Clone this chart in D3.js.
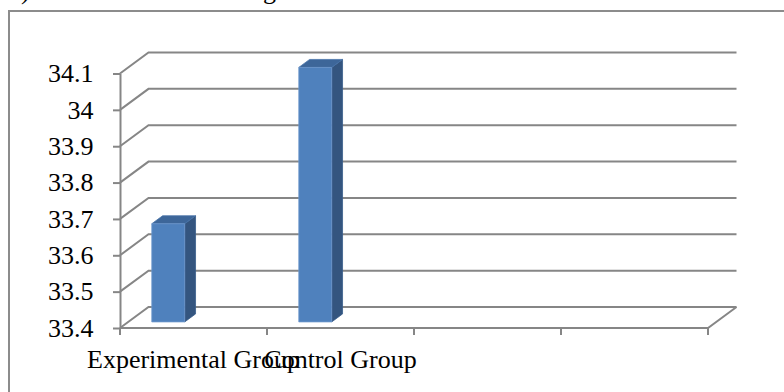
<!DOCTYPE html>
<html>
<head>
<meta charset="utf-8">
<script src="https://cdn.jsdelivr.net/npm/d3@7"></script>
<style>
  html, body { margin: 0; padding: 0; background: #fff; }
  svg { display: block; }
  text { font-family: "Liberation Serif", "Times New Roman", serif; fill: #000; }
</style>
</head>
<body>
<svg id="chart" width="784" height="392"></svg>
<script>
// Mean scores per group (4 category slots, last two empty)
const categories = ["Experimental Group", "Control Group", "", ""];
const values = [33.67, 34.1, null, null];
const yTicks = [33.4, 33.5, 33.6, 33.7, 33.8, 33.9, 34.0, 34.1];

(function () {
const svg = d3.select("#chart");
const serif = "Liberation Serif, Times New Roman, serif";

// Surrounding frame of the chart object (runs past the page edge)
svg.append("rect")
  .attr("x", 9).attr("y", 11).attr("width", 820).attr("height", 420)
  .attr("fill", "none").attr("stroke", "#8c8c8c").attr("stroke-width", 2);

// Descenders of the text line sitting just above the chart
svg.append("text").attr("x", 21).attr("y", -1).attr("font-size", 26).attr("font-family", serif).text(")");
svg.append("text").attr("x", 263).attr("y", -1).attr("font-size", 26).attr("font-family", serif).text("g");

// Plot geometry
const plotLeft = 120, plotRight = 708, plotBottom = 328, plotTop = 73.5;
const depthX = 28.5, depthY = 21;   // oblique offset of the back wall
const gridColor = "#868686";

const y = d3.scaleLinear().domain([33.4, 34.1]).range([plotBottom, plotTop]);
const x = d3.scaleBand().domain(d3.range(categories.length)).range([plotLeft, plotRight]).paddingInner(0).paddingOuter(0);

// project a front-plane point to a given depth (0 = front, 1 = back)
const proj = (px, py, z) => [px + z * depthX, py - z * depthY];

const g = svg.append("g");

// Back-wall gridlines with their diagonal on the side wall
g.selectAll("path.grid")
  .data(yTicks)
  .join("path")
  .attr("class", "grid")
  .attr("d", v => {
    const p0 = [plotLeft, y(v)];
    const p1 = proj(plotLeft, y(v), 1);
    const p2 = proj(plotRight, y(v), 1);
    return `M${p0}L${p1}L${p2}`;
  })
  .attr("fill", "none").attr("stroke", gridColor).attr("stroke-width", 2);

// Floor: front edge and right diagonal
g.append("path")
  .attr("d", () => {
    const a = [plotLeft, y(33.4)], b = [plotRight, y(33.4)], c = proj(plotRight, y(33.4), 1);
    return `M${a}L${b}L${c}`;
  })
  .attr("fill", "none").attr("stroke", gridColor).attr("stroke-width", 2);

// 3D columns
const z0 = 0.29, z1 = 0.67;
const barOff = 0.16, barW = 0.224;
const bars = g.selectAll("g.bar")
  .data(values.map((v, i) => ({ v, i })).filter(d => d.v != null))
  .join("g").attr("class", "bar");

bars.each(function (d) {
  const sel = d3.select(this);
  const x0 = x(d.i) + barOff * x.bandwidth();
  const x1 = x0 + barW * x.bandwidth();
  const yb = y(33.4), yt = y(d.v);
  const fBL = proj(x0, yb, z0), fBR = proj(x1, yb, z0), fTR = proj(x1, yt, z0), fTL = proj(x0, yt, z0);
  const bBR = proj(x1, yb, z1), bTR = proj(x1, yt, z1), bTL = proj(x0, yt, z1);
  // side face
  sel.append("path").attr("d", `M${fBR}L${bBR}L${bTR}L${fTR}Z`)
    .attr("fill", "#34557f").attr("stroke", "#3a5e8c").attr("stroke-width", 0.8);
  // top face
  sel.append("path").attr("d", `M${fTL}L${fTR}L${bTR}L${bTL}Z`)
    .attr("fill", "#3d6699").attr("stroke", "#4672a8").attr("stroke-width", 0.8);
  // front face
  sel.append("path").attr("d", `M${fBL}L${fBR}L${fTR}L${fTL}Z`)
    .attr("fill", "#4f81bd").attr("stroke", "#6d97cb").attr("stroke-width", 0.8);
});

// Value axis
const yAxis = d3.axisLeft(y)
  .tickValues(yTicks)
  .tickFormat(d3.format(".1~f"))
  .tickSize(7).tickSizeOuter(0).tickPadding(19.5);
const ya = svg.append("g").attr("transform", `translate(${plotLeft},0)`).call(yAxis)
  .attr("font-family", serif).attr("font-size", 26);
ya.select(".domain").attr("stroke", gridColor).attr("stroke-width", 2);
ya.selectAll(".tick line").attr("stroke", gridColor).attr("stroke-width", 2);
ya.selectAll(".tick text")
  .attr("font-size", 26).attr("fill", "#000").attr("font-family", serif);

// Category axis ticks at slot boundaries
const bounds = categories.map((c, i) => x(i)).concat([plotRight]);
svg.append("g").selectAll("line")
  .data(bounds)
  .join("line")
  .attr("x1", d => d).attr("x2", d => d)
  .attr("y1", plotBottom).attr("y2", plotBottom + 7)
  .attr("stroke", gridColor).attr("stroke-width", 2);

// Category labels
svg.append("g").selectAll("text")
  .data(categories)
  .join("text")
  .attr("x", (c, i) => x(i) + x.bandwidth() / 2)
  .attr("y", 368)
  .attr("text-anchor", "middle")
  .attr("font-size", 26)
  .attr("font-family", serif)
  .text(c => c);
})();
</script>
</body>
</html>
